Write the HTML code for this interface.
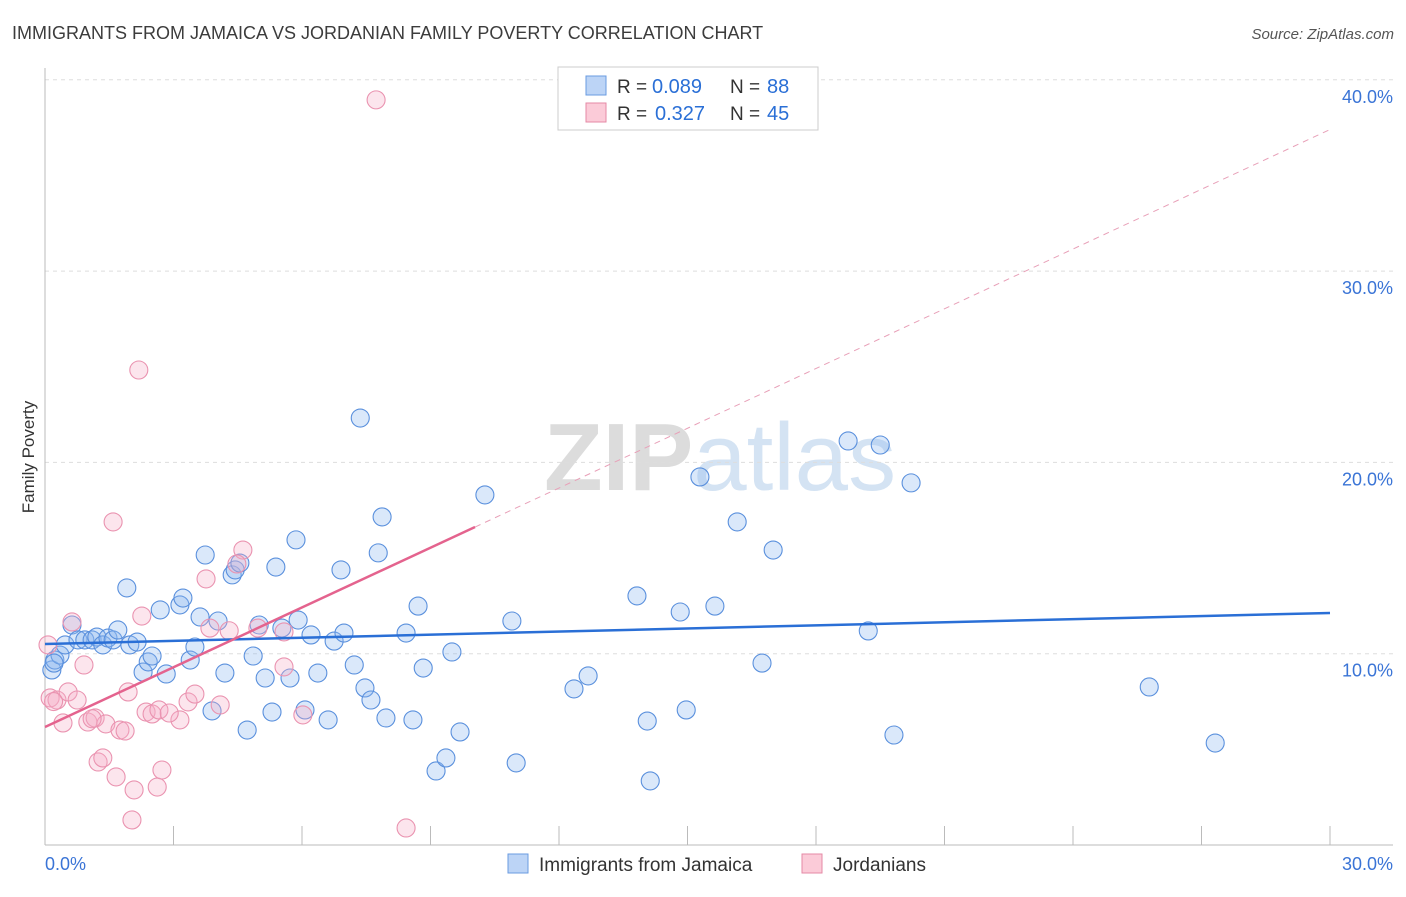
<!DOCTYPE html>
<html><head><meta charset="utf-8"><style>
body{margin:0;background:#fff;font-family:"Liberation Sans",sans-serif}
svg text{font-family:"Liberation Sans",sans-serif}
</style></head><body>
<svg id="chart" width="1406" height="892" xmlns="http://www.w3.org/2000/svg">
<text x="12" y="39" font-size="18" fill="#3c3c3c">IMMIGRANTS FROM JAMAICA VS JORDANIAN FAMILY POVERTY CORRELATION CHART</text>
<text x="1394" y="39" font-size="15" fill="#555" text-anchor="end" font-style="italic">Source: ZipAtlas.com</text>
<text x="720" y="490" font-size="96" text-anchor="middle" fill="#e6e6e6" font-family="Liberation Serif"><tspan fill="#dcdcdc" font-weight="bold">ZIP</tspan><tspan fill="#d4e3f3" font-family="Liberation Sans">atlas</tspan></text>
<g id="grid"></g><g id="axes"></g><g id="marks"></g>
<text transform="translate(34,457) rotate(-90)" font-size="17" fill="#333" text-anchor="middle">Family Poverty</text>
<g>
<rect x="558" y="67" width="260" height="63" fill="#fff" stroke="#ccc"/>
<rect x="586" y="76" width="20" height="19" fill="#bcd4f6" stroke="#6a9be0"/>
<rect x="586" y="103" width="20" height="19" fill="#fbcbd8" stroke="#e58aa6"/>
<text x="617" y="93" font-size="19" fill="#333">R =</text>
<text x="652" y="93" font-size="20" fill="#2a6fd6">0.089</text>
<text x="730" y="93" font-size="19" fill="#333">N =</text>
<text x="767" y="93" font-size="20" fill="#2a6fd6">88</text>
<text x="617" y="120" font-size="19" fill="#333">R =</text>
<text x="655" y="120" font-size="20" fill="#2a6fd6">0.327</text>
<text x="730" y="120" font-size="19" fill="#333">N =</text>
<text x="767" y="120" font-size="20" fill="#2a6fd6">45</text>
</g>
<g>
<rect x="508" y="854" width="20" height="19" fill="#bcd4f6" stroke="#6a9be0"/>
<text x="539" y="871" font-size="19" fill="#333">Immigrants from Jamaica</text>
<rect x="802" y="854" width="20" height="19" fill="#fbcbd8" stroke="#e58aa6"/>
<text x="833" y="871" font-size="19" fill="#333">Jordanians</text>
</g>
</svg>
<script>
const xTicks=[0,30];
const yTicks=[10,20,30,40];
const blueX=[0.16,0.23,0.35,0.47,0.63,0.77,0.93,1.10,1.21,1.35,1.47,1.59,1.70,1.91,1.98,2.15,2.29,2.41,2.50,2.69,2.83,3.15,3.22,3.39,3.50,3.62,3.90,3.74,4.04,4.20,4.37,4.44,4.55,4.72,4.86,5.00,5.14,5.30,5.39,5.53,5.72,5.86,5.91,6.07,6.21,6.37,6.61,6.75,6.91,6.98,7.22,7.36,7.47,7.61,7.78,7.87,7.96,8.43,8.59,8.71,8.83,9.13,9.36,9.50,9.69,10.27,10.90,11.00,12.35,12.68,13.82,14.06,14.13,14.83,14.97,15.29,15.64,16.16,16.74,17.00,18.75,19.22,19.50,19.82,20.22,25.78,27.32,0.21];
const blueY=[9.15,9.67,9.93,10.46,11.50,10.72,10.72,10.72,10.87,10.46,10.82,10.72,11.24,13.44,10.46,10.61,9.04,9.57,9.88,12.29,8.94,12.55,12.91,9.67,10.35,11.92,7.01,15.16,11.71,8.99,14.12,14.38,14.74,6.01,9.88,11.50,8.73,6.95,14.53,11.34,8.73,15.95,11.76,7.06,10.98,8.99,6.54,10.66,14.38,11.08,9.41,22.32,8.21,7.58,15.27,17.15,6.64,11.08,6.54,12.49,9.25,3.87,4.55,10.09,5.91,18.30,11.71,4.29,8.16,8.84,13.02,6.48,3.35,12.18,7.06,19.24,12.49,16.89,9.51,15.42,21.12,11.19,20.91,5.75,18.93,8.26,5.33,9.51];
const pinkX=[0.07,0.12,0.28,0.42,0.54,0.63,0.75,0.91,1.00,1.17,1.24,1.35,1.42,1.59,1.66,1.75,1.87,1.94,2.03,2.08,2.19,2.26,2.36,2.50,2.62,2.66,2.73,3.15,3.34,3.50,3.76,3.85,4.09,4.62,4.48,4.97,5.58,5.58,6.02,7.73,8.43,0.20,1.10,2.90,4.30];
const pinkY=[10.46,7.69,7.58,6.38,8.00,11.66,7.58,9.41,6.43,6.64,4.34,4.55,6.33,16.89,3.56,6.01,5.96,8.00,1.31,2.88,24.83,11.97,6.95,6.85,3.03,7.06,3.92,6.54,7.48,7.89,13.91,11.34,7.32,15.42,14.69,11.34,11.14,9.31,6.80,38.95,0.89,7.50,6.60,6.90,11.20];
const blueTrend=[10.51,12.13];
const pinkTrend=[6.17,1.041];
const X0=45,X1=1330,Y0=845,PY=19.13;
const sx=v=>X0+(X1-X0)*v/30, sy=v=>Y0-v*PY;
const NS='http://www.w3.org/2000/svg';
function mk(tag,attrs,parent){const e=document.createElementNS(NS,tag);for(const k in attrs)e.setAttribute(k,attrs[k]);document.getElementById(parent).appendChild(e);return e;}
yTicks.forEach(t=>{
 const l=mk('line',{x1:45,x2:1393,y1:sy(t),y2:sy(t),stroke:'#ddd','stroke-dasharray':'4,4'},'grid');
 
 
 const tx=mk('text',{x:1393,y:sy(t)+23,'font-size':18,fill:'#3a74d6','text-anchor':'end'},'axes');
 tx.textContent=t.toFixed(1)+'%';
 
 
});
const ax=mk('line',{x1:45,x2:45,y1:68,y2:845,stroke:'#bbb'},'axes');


const bx=mk('line',{x1:45,x2:1393,y1:845,y2:845,stroke:'#bbb'},'axes');


for(let i=0;i<=10;i++){const t=mk('line',{x1:sx(i*3),x2:sx(i*3),y1:826,y2:845,stroke:'#bbb'},'axes');
 
 }
xTicks.forEach((t,i)=>{const tx=mk('text',{x:i?1393:45,y:870,'font-size':18,fill:'#3a74d6','text-anchor':i?'end':'start'},'axes');
 tx.textContent=t.toFixed(1)+'%';
 
 });
blueX.forEach((x,i)=>{const c=mk('circle',{cx:sx(x),cy:sy(blueY[i]),r:9,fill:'rgba(140,182,238,0.32)',stroke:'#5a90dd','stroke-width':1.1},'marks');
 
 });
pinkX.forEach((x,i)=>{const c=mk('circle',{cx:sx(x),cy:sy(pinkY[i]),r:9,fill:'rgba(247,175,198,0.32)',stroke:'#ea93b0','stroke-width':1.1},'marks');
 
 });
const bl=mk('line',{x1:sx(0),y1:sy(blueTrend[0]),x2:sx(30),y2:sy(blueTrend[1]),stroke:'#2a6fd6','stroke-width':2.5},'marks');


const pl=mk('line',{x1:sx(0),y1:sy(pinkTrend[0]),x2:sx(10.04),y2:sy(pinkTrend[0]+pinkTrend[1]*10.04),stroke:'#e4638e','stroke-width':2.5},'marks');


const pd=mk('line',{x1:sx(10.04),y1:sy(pinkTrend[0]+pinkTrend[1]*10.04),x2:sx(30),y2:sy(pinkTrend[0]+pinkTrend[1]*30),stroke:'#e8a0b8','stroke-width':1,'stroke-dasharray':'6,5'},'marks');


</script>
</body></html>
